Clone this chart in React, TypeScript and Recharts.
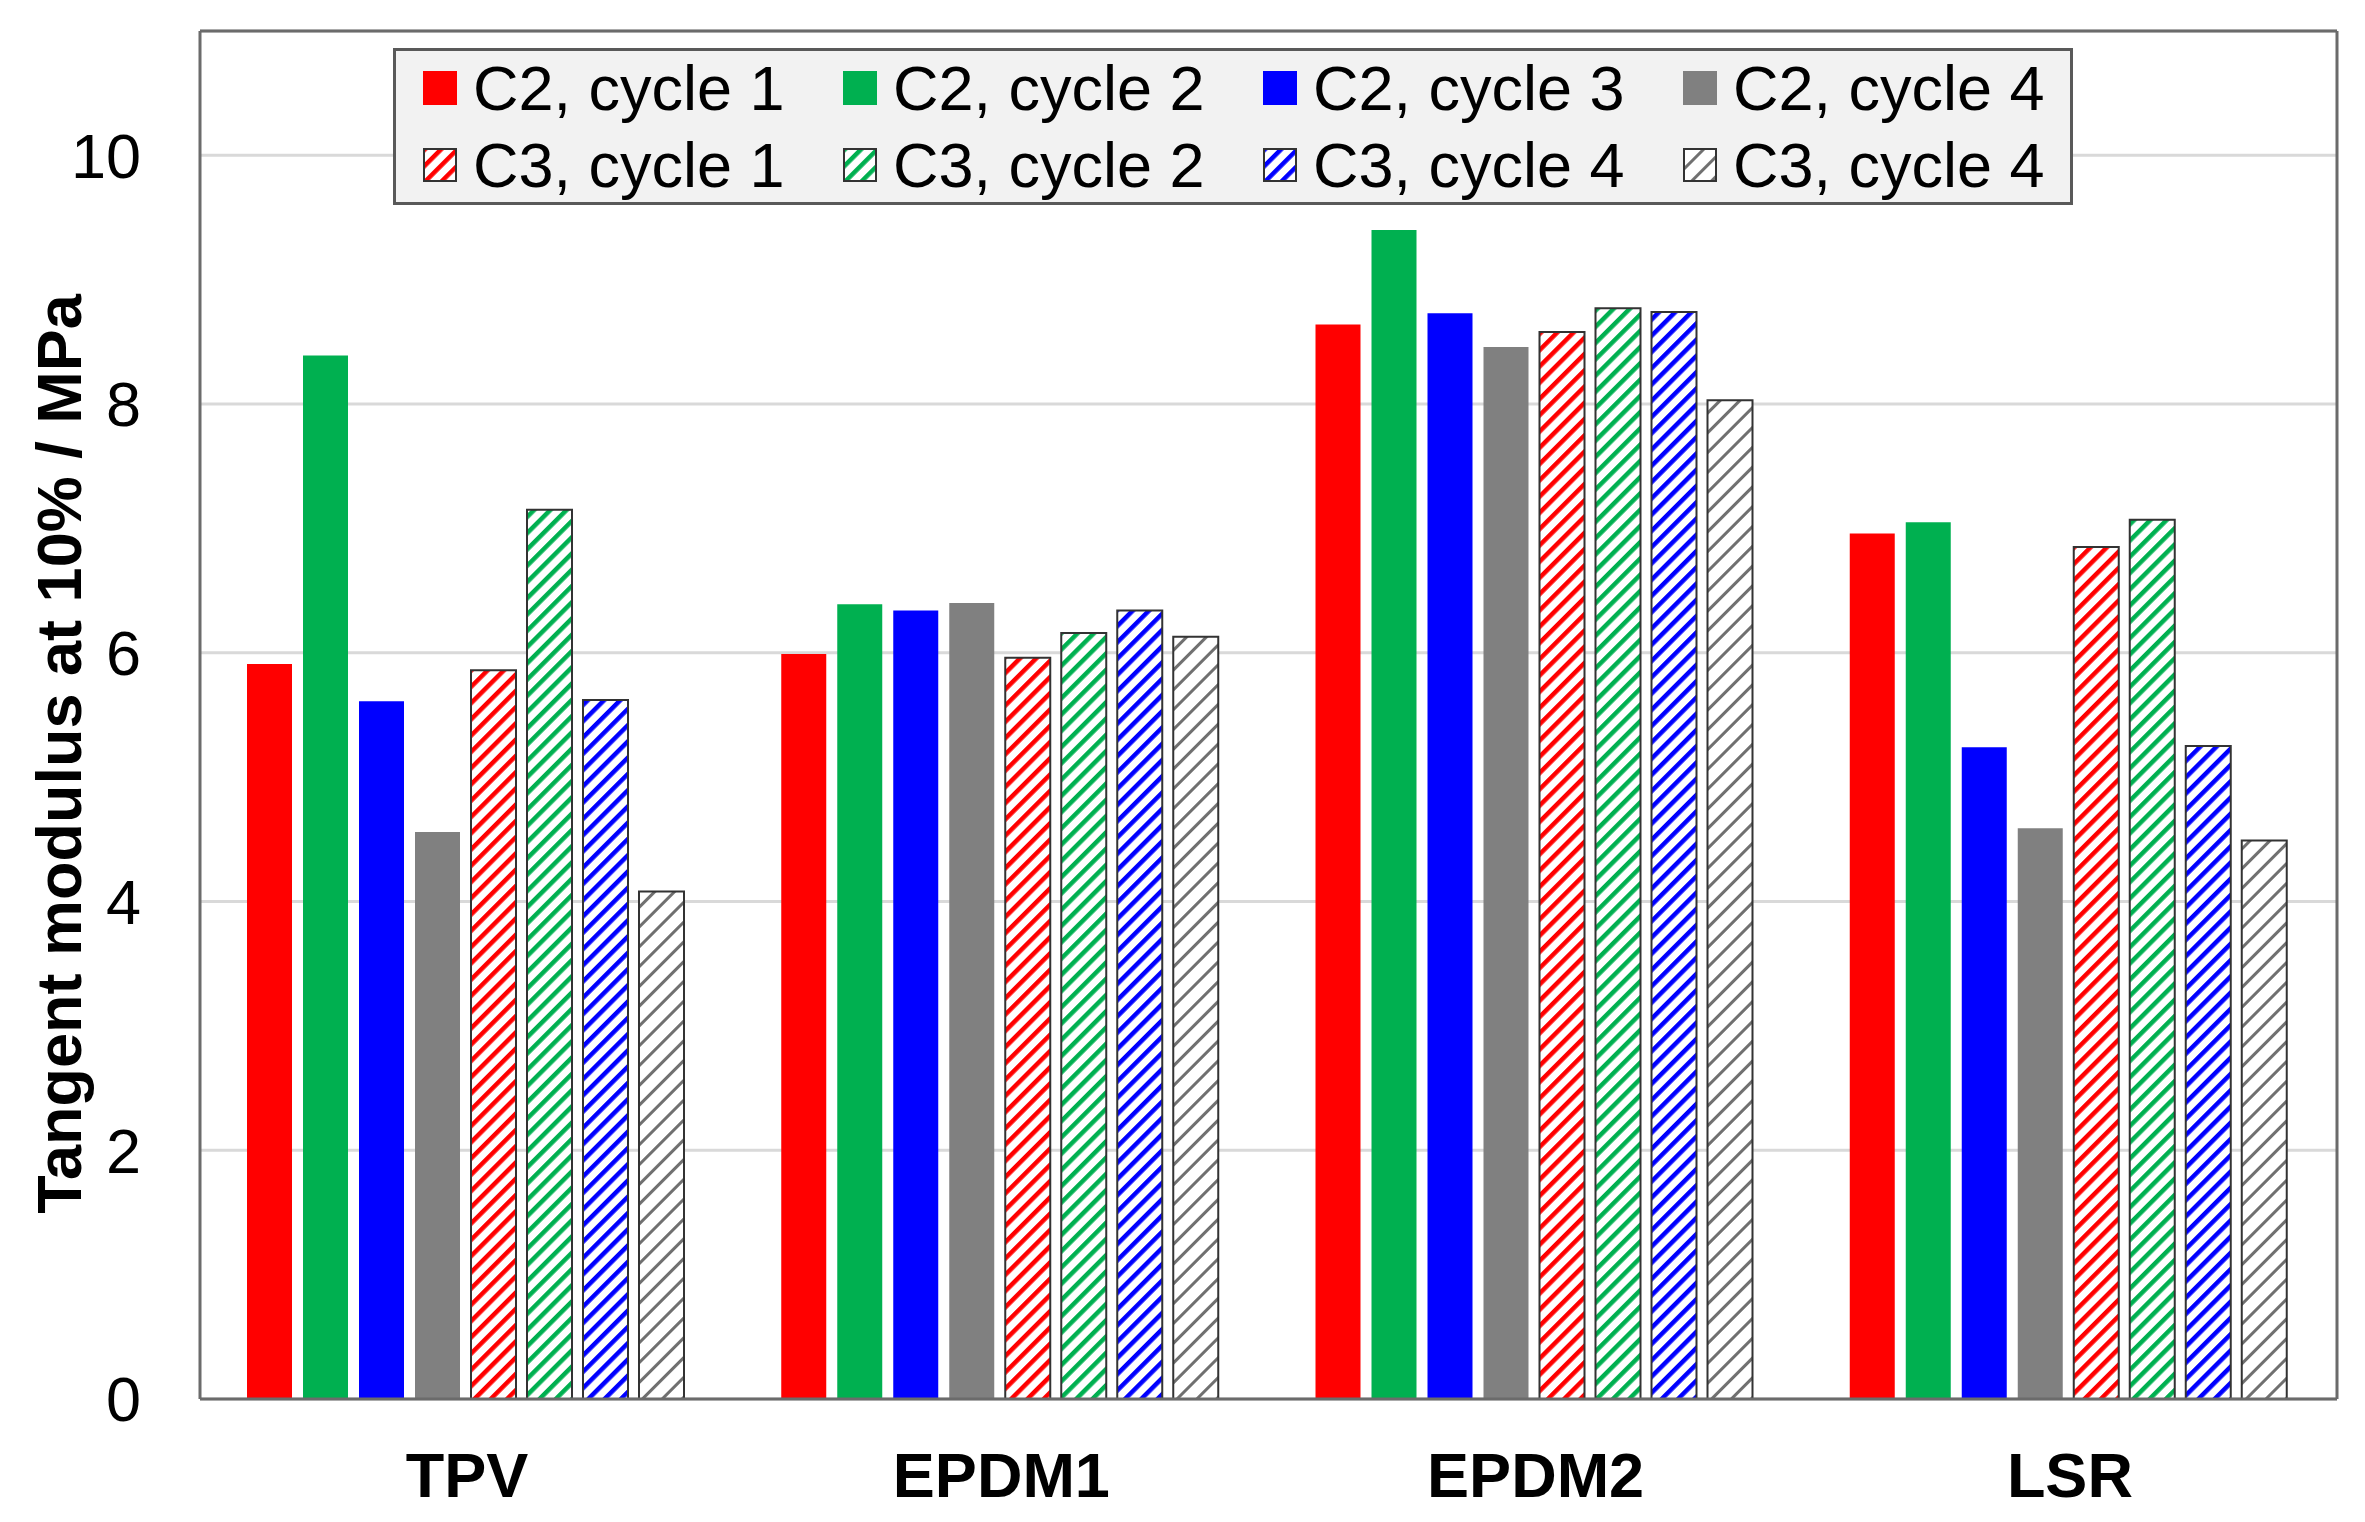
import React from 'react'
import {
  BarChart,
  Bar,
  XAxis,
  YAxis,
  CartesianGrid,
  Legend,
} from 'recharts'

const FONT = '"Liberation Sans", Arial, sans-serif'

const categories = ['TPV', 'EPDM1', 'EPDM2', 'LSR']
const c2cycle1 = [5.91, 5.99, 8.64, 6.96]
const c2cycle2 = [8.39, 6.39, 9.4, 7.05]
const c2cycle3 = [5.61, 6.34, 8.73, 5.24]
const c2cycle4 = [4.56, 6.4, 8.46, 4.59]
const c3cycle1 = [5.86, 5.96, 8.58, 6.85]
const c3cycle2 = [7.15, 6.16, 8.77, 7.07]
const c3cycle3 = [5.62, 6.34, 8.74, 5.25]
const c3cycle4 = [4.08, 6.13, 8.03, 4.49]
const yTicks = [0, 2, 4, 6, 8, 10]

const series = [
  { key: 'c2c1', label: 'C2, cycle 1', color: '#ff0000', hatched: false, values: c2cycle1 },
  { key: 'c2c2', label: 'C2, cycle 2', color: '#00b050', hatched: false, values: c2cycle2 },
  { key: 'c2c3', label: 'C2, cycle 3', color: '#0000ff', hatched: false, values: c2cycle3 },
  { key: 'c2c4', label: 'C2, cycle 4', color: '#808080', hatched: false, values: c2cycle4 },
  { key: 'c3c1', label: 'C3, cycle 1', color: '#ff0000', hatched: true, values: c3cycle1 },
  { key: 'c3c2', label: 'C3, cycle 2', color: '#00b050', hatched: true, values: c3cycle2 },
  { key: 'c3c3', label: 'C3, cycle 4', color: '#0000ff', hatched: true, values: c3cycle3 },
  { key: 'c3c4', label: 'C3, cycle 4', color: '#808080', hatched: true, values: c3cycle4 },
]

const data = categories.map((name, i) => {
  const row: Record<string, string | number> = { name }
  series.forEach((s) => {
    row[s.key] = s.values[i]
  })
  return row
})

function HatchPattern({ id, color }: { id: string; color: string }) {
  const gray = color === '#808080'
  const size = gray ? 14 : 11.5
  const stripe = gray ? 3 : 4.5
  return (
    <pattern
      id={id}
      patternUnits="userSpaceOnUse"
      width={size}
      height={size}
      patternTransform="rotate(45)"
    >
      <rect width={size} height={size} fill="#ffffff" />
      <rect width={stripe} height={size} fill={gray ? '#707070' : color} />
    </pattern>
  )
}

function Swatch({ s, idx }: { s: (typeof series)[number]; idx: number }) {
  if (!s.hatched) {
    return <div style={{ width: 34, height: 34, background: s.color, flex: 'none' }} />
  }
  const id = `legend-hatch-${idx}`
  return (
    <svg width={34} height={34} style={{ flex: 'none', display: 'block' }}>
      <defs>
        <HatchPattern id={id} color={s.color} />
      </defs>
      <rect x={1} y={1} width={32} height={32} fill={`url(#${id})`} stroke="#333" strokeWidth={2} />
    </svg>
  )
}

const renderLegend = () => (
  <div
    style={{
      position: 'relative',
      width: 1680,
      height: 157,
      boxSizing: 'border-box',
      background: '#f2f2f2',
      border: '3px solid #595959',
      fontFamily: FONT,
      fontSize: 63,
      color: '#000',
    }}
  >
    {series.map((s, i) => {
      const col = i % 4
      const row = Math.floor(i / 4)
      return (
        <div
          key={s.key}
          style={{
            position: 'absolute',
            left: 27 + col * 420,
            top: 7 + row * 77,
            height: 60,
            display: 'flex',
            alignItems: 'center',
            lineHeight: 1,
            whiteSpace: 'nowrap',
          }}
        >
          <Swatch s={s} idx={i} />
          <span style={{ marginLeft: 16 }}>{s.label}</span>
        </div>
      )
    })}
  </div>
)

const renderYLabel = (props: any) => {
  const vb = props.viewBox || { x: 0, y: 31, width: 200, height: 1368 }
  const x = vb.x + 59
  const y = vb.y + vb.height / 2 + 39
  return (
    <text
      x={x}
      y={y}
      transform={`rotate(-90 ${x} ${y})`}
      textAnchor="middle"
      dominantBaseline="central"
      fontFamily={FONT}
      fontSize={63}
      fontWeight={700}
      fill="#000"
    >
      Tangent modulus at 10% / MPa
    </text>
  )
}

const border = { stroke: '#6b6b6b', strokeWidth: 3 }

export default function App() {
  return (
    <div style={{ position: 'absolute', left: 0, top: 0, width: 2365, height: 1522, background: '#fff' }}>
      <BarChart
        width={2365}
        height={1522}
        data={data}
        margin={{ top: 30, right: 27, left: 0, bottom: 0 }}
        barCategoryGap={47}
        barGap={11}
      >
        <defs>
          {series
            .filter((s) => s.hatched)
            .map((s) => (
              <HatchPattern key={s.key} id={`hatch-${s.key}`} color={s.color} />
            ))}
        </defs>
        <CartesianGrid vertical={false} stroke="#d9d9d9" strokeWidth={3} />
        <XAxis
          dataKey="name"
          height={123}
          tickLine={false}
          tickSize={0}
          tickMargin={53}
          axisLine={border}
          tick={{ fill: '#000', fontSize: 63, fontWeight: 700, fontFamily: FONT }}
        />
        <XAxis
          xAxisId="top"
          orientation="top"
          dataKey="name"
          height={1}
          tick={false}
          tickLine={false}
          axisLine={border}
        />
        <YAxis
          width={200}
          domain={[0, 11]}
          ticks={yTicks}
          tickLine={false}
          tickSize={0}
          tickMargin={59}
          axisLine={border}
          tick={{ fill: '#000', fontSize: 63, fontFamily: FONT }}
          label={{ content: renderYLabel }}
        />
        <YAxis
          yAxisId="right"
          orientation="right"
          width={1}
          domain={[0, 11]}
          tick={false}
          tickLine={false}
          axisLine={border}
        />
        <Legend
          layout="horizontal"
          align="center"
          verticalAlign="middle"
          content={renderLegend}
          wrapperStyle={{ left: 393, top: 48, width: 1680, height: 157 }}
        />
        {series.map((s) =>
          s.hatched ? (
            <Bar
              key={s.key}
              dataKey={s.key}
              name={s.label}
              fill={`url(#hatch-${s.key})`}
              stroke="#333"
              strokeWidth={2}
              isAnimationActive={false}
            />
          ) : (
            <Bar
              key={s.key}
              dataKey={s.key}
              name={s.label}
              fill={s.color}
              isAnimationActive={false}
            />
          )
        )}
      </BarChart>
    </div>
  )
}
